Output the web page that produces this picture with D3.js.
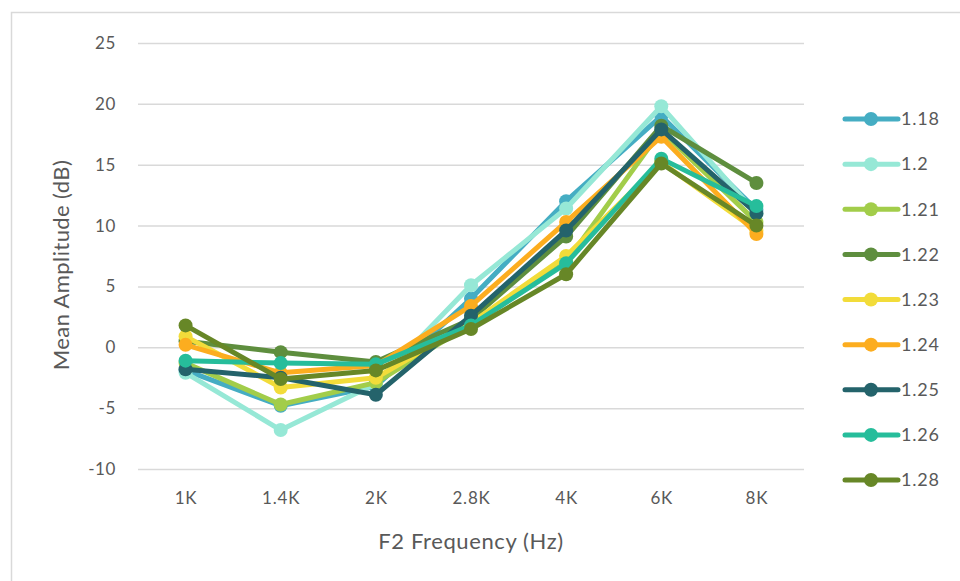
<!DOCTYPE html>
<html>
<head>
<meta charset="utf-8">
<script src="https://cdn.jsdelivr.net/npm/d3@7"></script>
<style>
  html, body { margin: 0; padding: 0; background: #fff; }
  svg { display: block; }
  text { font-family: Lato, "Open Sans", sans-serif; fill: #595959; }
</style>
</head>
<body>
<svg id="chart" width="960" height="581"></svg>
<script>
// Frequency categories on the x axis
const categories = ["1K", "1.4K", "2K", "2.8K", "4K", "6K", "8K"];
// Y axis ticks
const yTicks = [-10, -5, 0, 5, 10, 15, 20, 25];

// Series names and colours
const seriesNames = ["1.18", "1.2", "1.21", "1.22", "1.23", "1.24", "1.25", "1.26", "1.28"];
const seriesColors = ["#45adc3", "#96e8d6", "#a2cd4a", "#5e8e3e", "#f2dc3a", "#fcad1f", "#24636b", "#26bd9b", "#678727"];

// Mean amplitude (dB) per series, one value per frequency
const s118 = [-1.9, -4.8, -3.2, 4.0, 12.0, 19.0, 11.3];
const s120 = [-2.1, -6.8, -3.0, 5.1, 11.4, 19.8, 11.0];
const s121 = [-1.3, -4.7, -2.9, 1.9, 7.0, 17.8, 10.3];
const s122 = [0.5, -0.4, -1.2, 2.3, 9.1, 18.2, 13.5];
const s123 = [0.9, -3.3, -2.5, 2.0, 7.5, 15.2, 9.6];
const s124 = [0.2, -2.1, -1.5, 3.4, 10.3, 17.3, 9.3];
const s125 = [-1.8, -2.5, -3.9, 2.6, 9.6, 17.9, 11.0];
const s126 = [-1.1, -1.3, -1.4, 1.8, 6.9, 15.5, 11.6];
const s128 = [1.8, -2.6, -1.9, 1.5, 6.0, 15.1, 10.0];
const seriesValues = [s118, s120, s121, s122, s123, s124, s125, s126, s128];

const svg = d3.select("#chart");

// Outer chart frame (top and left edges visible)
svg.append("rect")
  .attr("x", 11.5).attr("y", 12.5)
  .attr("width", 1000).attr("height", 1000)
  .attr("fill", "none").attr("stroke", "#d9d9d9").attr("stroke-width", 1.5);

const plot = { left: 138, right: 804, top: 43, bottom: 469 };

const x = d3.scalePoint()
  .domain(categories)
  .range([plot.left, plot.right])
  .padding(0.5);

const y = d3.scaleLinear()
  .domain([-10, 25])
  .range([plot.bottom, plot.top]);

// Horizontal gridlines
svg.append("g")
  .selectAll("line")
  .data(yTicks)
  .join("line")
  .attr("x1", plot.left).attr("x2", plot.right)
  .attr("y1", d => y(d) + 0.5).attr("y2", d => y(d) + 0.5)
  .attr("stroke", "#d9d9d9").attr("stroke-width", 1.5);

// Y axis labels (plain hyphen for negatives)
const yAxis = d3.axisLeft(y).tickValues(yTicks).tickFormat(d => String(d)).tickSize(0).tickPadding(0);
const gy = svg.append("g").attr("transform", `translate(${plot.left - 22},0)`).call(yAxis);
gy.select(".domain").remove();
gy.selectAll("text")
  .attr("font-size", 17).attr("fill", "#595959")
  .attr("letter-spacing", 0.6)
  .attr("font-family", "Lato, 'Open Sans', sans-serif");

// X axis labels
const xAxis = d3.axisBottom(x).tickSize(0).tickPadding(0);
const gx = svg.append("g").attr("transform", `translate(0,${plot.bottom + 23})`).call(xAxis);
gx.select(".domain").remove();
gx.selectAll("text")
  .attr("font-size", 17).attr("fill", "#595959")
  .attr("letter-spacing", 0.8)
  .attr("font-family", "Lato, 'Open Sans', sans-serif");

// Axis titles
svg.append("text")
  .attr("x", 471).attr("y", 549)
  .attr("text-anchor", "middle")
  .attr("font-size", 22)
  .attr("letter-spacing", 0.6)
  .text("F2 Frequency (Hz)");

svg.append("text")
  .attr("transform", "translate(69,265) rotate(-90)")
  .attr("text-anchor", "middle")
  .attr("font-size", 22)
  .attr("letter-spacing", 0.4)
  .text("Mean Amplitude (dB)");

// Series lines and markers
const line = d3.line()
  .x((d, i) => x(categories[i]))
  .y(d => y(d));

const series = svg.append("g")
  .selectAll("g")
  .data(seriesValues)
  .join("g");

series.append("path")
  .attr("d", d => line(d))
  .attr("fill", "none")
  .attr("stroke", (d, i) => seriesColors[i])
  .attr("stroke-width", 5)
  .attr("stroke-linejoin", "round")
  .attr("stroke-linecap", "round");

series.each(function(vals, si) {
  d3.select(this).selectAll("circle")
    .data(vals)
    .join("circle")
    .attr("cx", (d, i) => x(categories[i]))
    .attr("cy", d => y(d))
    .attr("r", 7)
    .attr("fill", seriesColors[si]);
});

// Legend
const legendY = d3.scalePoint()
  .domain(seriesNames)
  .range([119, 480]);

const legend = svg.append("g")
  .selectAll("g")
  .data(seriesNames)
  .join("g")
  .attr("transform", d => `translate(0,${legendY(d)})`);

legend.append("line")
  .attr("x1", 845).attr("x2", 898)
  .attr("stroke", (d, i) => seriesColors[i])
  .attr("stroke-width", 5)
  .attr("stroke-linecap", "round");

legend.append("circle")
  .attr("cx", 871).attr("r", 7)
  .attr("fill", (d, i) => seriesColors[i]);

legend.append("text")
  .attr("x", 901).attr("dy", "0.35em")
  .attr("font-size", 18)
  .attr("letter-spacing", 0.8)
  .text(d => d);
</script>
</body>
</html>
